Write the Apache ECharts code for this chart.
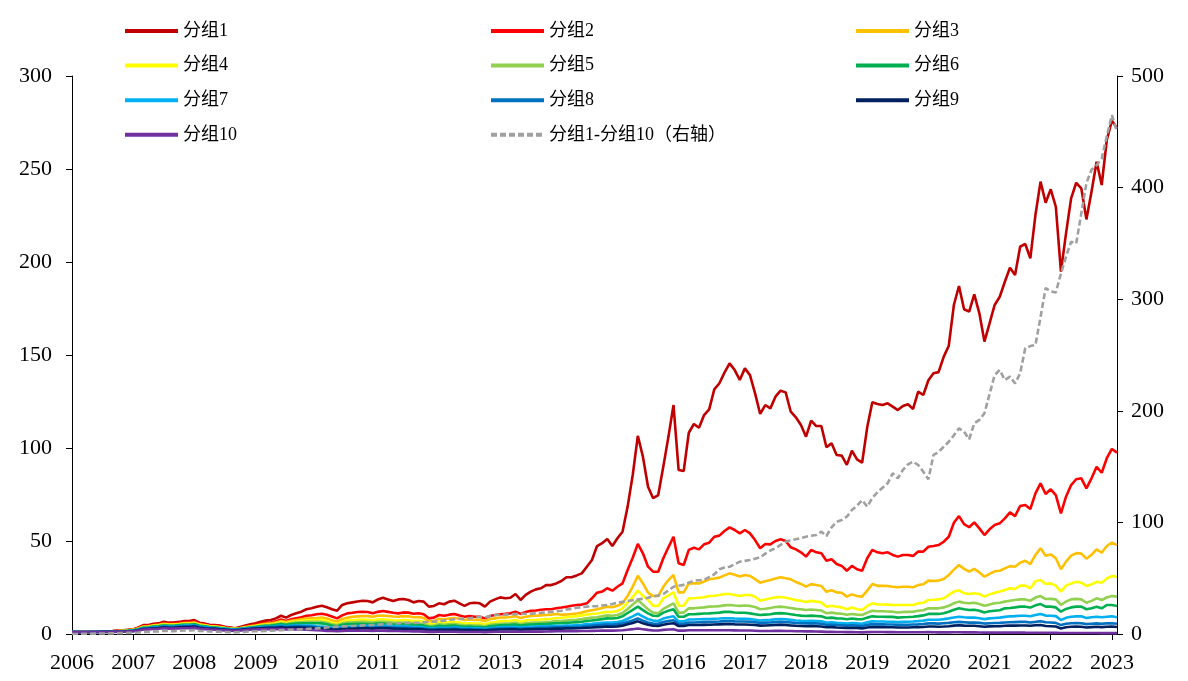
<!DOCTYPE html>
<html>
<head>
<meta charset="utf-8">
<script src="https://cdn.jsdelivr.net/npm/echarts@6/dist/echarts.min.js"></script>
<style>html,body{margin:0;padding:0;background:#fff}#c{width:1188px;height:681px}</style>
</head>
<body>
<div id="c"></div>
<script>
// Tick labels (years) and monthly categories 2006-01 .. 2023-02
const years = ['2006','2007','2008','2009','2010','2011','2012','2013','2014','2015','2016','2017','2018','2019','2020','2021','2022','2023'];
const months = [];
years.forEach(function (y) {
  for (let m = 1; m <= 12; m++) {
    if (y === '2023' && m > 2) break;
    months.push(y + '-' + (m < 10 ? '0' + m : '' + m));
  }
});

const names = ['分组1','分组2','分组3','分组4','分组5','分组6','分组7','分组8','分组9','分组10'];
const spreadName = '分组1-分组10（右轴）';

const group1 = [
1.0,1.05,1.1,1.2,1.3,1.4,1.5,1.5,1.6,1.8,2.0,2.3,
2.5,3.5,4.8,4.8,5.5,5.7,6.6,6.1,6.1,6.5,7.0,7.0,
7.5,6.1,5.6,5.0,4.8,4.5,3.9,3.5,3.1,3.8,4.5,5.2,
5.8,6.6,7.2,7.5,8.4,9.8,8.8,10.2,11.2,12.0,13.3,13.8,
14.6,15.2,14.4,13.3,12.5,15.6,16.5,17.0,17.5,17.9,17.7,17.0,
18.6,19.5,18.6,17.7,18.6,18.8,18.3,17.0,17.7,17.4,14.7,15.1,
16.5,16.0,17.4,17.9,16.5,15.1,16.5,16.8,16.5,14.7,17.4,18.6,
19.7,19.2,19.5,21.5,18.3,21.0,22.8,24.0,24.6,26.3,26.3,27.2,
28.5,30.5,30.5,31.5,32.6,36.2,39.8,47.3,48.8,51.1,47.3,51.5,
55.0,68.5,85.5,106.5,95.3,79.2,73.0,74.7,90.0,106.0,123.1,88.2,
87.6,108.2,112.9,110.9,117.7,120.8,131.5,134.8,140.5,145.5,141.9,136.6,
142.8,139.2,129.4,118.3,123.1,121.3,127.6,130.8,129.9,119.5,116.5,112.4,
106.1,114.7,111.8,111.8,100.4,102.5,96.2,95.9,90.9,98.5,93.9,92.1,
111.1,124.6,123.7,123.1,124.0,122.2,120.4,122.6,123.5,121.0,130.3,128.5,
136.4,140.2,140.8,149.0,155.0,176.9,187.1,174.6,173.3,182.6,172.4,157.2,
167.0,176.9,181.3,189.4,196.9,193.0,208.2,209.7,202.0,225.3,243.2,231.9,
239.1,229.7,194.8,215.4,234.2,242.6,239.6,222.9,237.8,253.9,241.4,265.6,
276.0,271.9];

const group2 = [
1.0,1.05,1.1,1.15,1.25,1.35,1.4,1.45,1.55,1.7,1.9,2.1,
2.4,3.2,4.3,4.4,5.0,5.2,5.9,5.6,5.6,6.0,6.4,6.4,
6.8,5.6,5.1,4.6,4.4,4.1,3.6,3.3,2.9,3.4,4.0,4.5,
5.0,5.6,6.0,6.2,6.8,7.8,7.0,7.9,8.5,9.0,9.8,10.1,
10.6,10.9,10.3,9.4,8.4,10.0,11.1,11.4,11.8,12.0,11.8,11.1,
11.9,12.4,11.9,11.4,11.1,11.6,11.5,10.9,11.2,10.6,8.4,8.8,
10.2,9.8,10.4,10.8,10.0,9.3,9.6,9.3,9.3,8.4,9.7,10.2,
10.6,10.8,11.1,12.0,10.8,11.8,12.5,12.6,13.0,13.3,13.3,13.8,
14.2,14.7,15.2,15.6,15.8,16.5,19.2,22.2,22.8,24.6,23.3,25.4,
27.2,34.4,41.0,48.4,43.4,36.2,33.5,33.5,40.7,46.6,52.3,38.0,
37.1,45.2,46.4,45.5,48.2,49.1,52.3,52.9,55.4,57.3,55.9,54.1,
55.9,54.1,50.5,46.1,48.4,48.2,50.0,50.9,50.0,46.6,45.5,43.9,
41.6,45.2,43.9,43.4,39.4,40.2,37.6,36.6,34.0,36.6,34.8,34.0,
40.7,45.2,43.9,43.4,43.9,42.5,41.6,42.5,42.5,42.0,44.3,44.3,
46.9,47.3,47.8,49.6,52.3,59.8,63.4,59.1,57.4,60.0,56.8,53.2,
56.3,58.6,59.5,62.2,65.4,63.4,68.8,69.4,67.2,75.6,81.0,75.3,
77.8,74.7,64.9,73.8,80.1,83.2,83.7,78.3,83.7,89.9,86.7,94.5,
99.5,97.5];

const group3 = [
1.0,1.05,1.1,1.15,1.2,1.3,1.35,1.4,1.5,1.6,1.8,2.0,
2.3,3.0,4.0,4.1,4.7,4.9,5.5,5.2,5.2,5.5,5.9,5.9,
6.2,5.2,4.8,4.3,4.1,3.8,3.4,3.1,2.8,3.2,3.7,4.2,
4.6,5.1,5.5,5.7,6.2,7.0,6.4,7.1,7.5,7.9,8.3,8.5,
8.6,8.8,8.3,7.4,6.6,8.0,8.8,9.2,9.5,9.7,9.6,9.3,
9.8,9.9,9.7,9.4,9.3,9.6,9.5,9.0,9.1,8.6,6.8,7.0,
8.2,7.9,8.3,8.6,8.2,7.6,7.8,7.6,7.6,7.0,8.0,8.4,
8.9,8.9,9.1,9.6,8.6,9.3,9.7,9.8,10.0,10.2,10.4,10.8,
10.3,10.5,10.7,11.0,11.5,12.3,12.8,13.3,14.0,14.7,14.4,15.2,
16.5,20.5,25.5,31.3,27.2,22.2,20.4,20.4,25.4,29.0,31.7,22.4,
22.4,27.2,27.2,27.2,28.2,29.4,29.8,30.3,31.5,32.6,31.8,30.9,
31.7,31.2,29.5,27.6,28.3,29.0,29.8,30.5,30.0,29.4,28.0,26.9,
25.5,26.8,26.3,25.8,22.7,23.5,22.4,22.2,20.1,21.3,20.4,20.1,
23.3,26.9,25.9,25.9,25.8,25.4,25.1,25.4,25.4,25.1,26.3,26.7,
28.7,28.5,28.7,29.6,31.7,34.6,37.1,35.0,33.5,35.0,33.1,30.8,
32.3,33.7,34.0,35.3,36.5,36.2,38.3,39.4,37.6,42.5,46.1,42.1,
42.8,40.7,34.8,38.9,42.1,43.5,43.2,40.5,42.6,45.5,43.7,47.3,
49.1,47.8];

const group4 = [
1.0,1.05,1.1,1.15,1.2,1.25,1.3,1.35,1.45,1.55,1.7,1.9,
2.2,2.8,3.8,3.9,4.4,4.6,5.2,4.9,4.9,5.2,5.5,5.5,
5.8,4.9,4.5,4.1,3.9,3.6,3.2,2.9,2.7,3.0,3.5,3.9,
4.3,4.7,5.0,5.2,5.6,6.3,5.8,6.4,6.7,7.0,7.3,7.4,
7.5,7.6,7.0,6.1,5.4,6.6,7.2,7.4,7.6,7.8,7.7,7.4,
7.8,7.9,7.7,7.4,7.2,7.5,7.4,7.0,7.1,6.6,5.3,5.5,
6.4,6.1,6.4,6.6,6.2,5.6,5.8,5.6,5.6,5.2,6.0,6.4,
6.9,7.0,7.1,7.5,6.6,7.2,7.5,7.6,7.8,8.0,8.2,8.6,
8.7,9.0,9.3,9.6,10.0,10.4,10.8,11.0,11.5,12.0,11.8,12.4,
13.8,17.0,20.0,23.3,20.5,18.3,15.1,15.1,19.2,20.8,22.4,15.2,
15.2,19.2,19.2,19.5,19.8,20.4,20.6,21.0,21.5,21.5,21.0,20.4,
21.0,21.0,20.0,17.9,18.6,19.2,19.7,19.9,19.5,19.0,18.2,17.9,
17.2,17.8,17.4,17.0,14.7,15.2,14.7,14.3,13.3,14.2,13.3,12.9,
15.1,16.5,15.9,15.9,15.8,15.6,15.6,15.6,15.6,15.6,16.5,16.8,
18.3,18.4,18.6,19.2,21.0,22.8,23.5,21.9,21.5,21.9,21.5,20.1,
21.3,22.2,22.8,23.7,24.6,24.2,26.0,26.0,24.6,28.3,29.0,26.9,
27.2,26.0,22.8,26.0,27.2,28.1,27.6,25.8,26.7,28.1,27.6,29.9,
31.2,30.8];

const group5 = [
1.0,1.05,1.1,1.12,1.18,1.22,1.28,1.32,1.4,1.5,1.65,1.8,
2.1,2.7,3.6,3.7,4.2,4.4,4.9,4.6,4.6,4.9,5.2,5.2,
5.5,4.6,4.3,3.9,3.7,3.4,3.0,2.8,2.6,2.9,3.3,3.7,
4.0,4.4,4.7,4.9,5.2,5.8,5.4,5.9,6.1,6.3,6.5,6.6,
6.6,6.5,6.0,5.2,4.8,5.7,6.1,6.3,6.4,6.5,6.4,6.2,
6.5,6.6,6.4,6.2,6.0,6.2,6.1,5.8,5.8,5.4,4.4,4.5,
5.2,5.0,5.2,5.4,5.0,4.6,4.7,4.5,4.5,4.2,4.9,5.2,
5.5,5.6,5.7,6.0,5.3,5.8,6.0,6.1,6.2,6.4,6.6,6.9,
7.0,7.3,7.5,7.7,8.0,8.4,8.8,9.0,9.5,10.0,9.8,10.2,
11.3,13.5,15.8,18.3,15.8,13.3,11.5,11.1,13.5,15.0,16.5,11.5,
11.5,13.8,13.8,14.1,14.3,14.7,14.8,15.0,15.4,15.6,15.3,15.1,
15.3,15.1,14.5,13.3,13.6,14.0,14.5,14.7,14.4,14.0,13.5,13.3,
12.9,13.2,12.9,12.6,11.2,11.5,11.1,10.9,10.3,10.8,10.4,10.2,
11.5,12.5,12.2,12.2,12.1,12.0,11.6,11.8,11.9,12.0,12.5,12.8,
13.8,13.8,13.8,14.3,15.2,16.5,17.4,16.8,16.5,16.8,16.1,15.2,
15.8,16.5,16.8,17.4,17.9,18.3,18.6,18.6,17.9,19.6,20.4,18.8,
18.9,18.6,15.6,17.5,18.6,18.9,18.6,16.8,17.8,19.2,18.3,19.6,
20.4,20.1];

const group6 = [
1.0,1.04,1.08,1.1,1.15,1.2,1.25,1.3,1.35,1.45,1.6,1.75,
2.0,2.6,3.4,3.5,4.0,4.2,4.6,4.4,4.4,4.7,5.0,5.0,
5.2,4.4,4.1,3.7,3.5,3.2,2.9,2.7,2.5,2.8,3.1,3.5,
3.8,4.1,4.4,4.6,4.9,5.4,5.0,5.4,5.6,5.7,5.8,5.8,
5.8,5.7,5.2,4.6,4.2,5.0,5.3,5.4,5.5,5.5,5.4,5.3,
5.6,5.6,5.4,5.2,5.1,5.2,5.1,4.9,4.9,4.5,3.7,3.8,
4.4,4.2,4.4,4.6,4.2,3.9,4.0,3.8,3.8,3.5,4.1,4.4,
4.7,4.8,4.9,5.1,4.5,4.9,5.1,5.2,5.3,5.4,5.6,5.8,
5.8,6.0,6.2,6.4,6.6,7.0,7.3,7.6,8.0,8.4,8.3,8.6,
9.5,11.3,13.0,14.7,12.8,11.1,9.8,9.7,11.5,12.5,13.3,9.3,
9.3,10.6,10.6,10.8,11.0,11.1,11.3,11.5,11.9,11.9,11.6,11.4,
11.4,11.1,10.6,10.2,10.4,10.6,11.1,11.2,11.0,10.6,10.2,9.9,
9.7,9.9,9.7,9.5,8.6,8.8,8.4,8.3,7.9,8.3,8.0,7.9,
8.8,9.5,9.3,9.3,9.2,9.2,8.8,9.0,9.1,9.3,9.6,10.0,
10.8,10.8,10.8,11.2,12.0,13.0,13.8,13.3,12.9,13.0,12.5,11.6,
12.2,12.5,12.8,13.8,14.0,14.3,14.7,14.7,14.2,15.4,16.1,14.7,
14.7,14.3,12.0,13.5,14.3,14.7,14.7,13.3,13.9,14.7,13.8,15.6,
15.6,15.1];

const group7 = [
1.0,1.03,1.06,1.08,1.12,1.16,1.2,1.24,1.28,1.35,1.45,1.6,
1.8,2.3,3.1,3.2,3.6,3.8,4.2,4.0,4.0,4.3,4.5,4.5,
4.7,4.0,3.7,3.4,3.2,2.9,2.7,2.5,2.3,2.6,2.9,3.2,
3.4,3.7,3.9,4.0,4.2,4.5,4.2,4.5,4.6,4.6,4.6,4.5,
4.2,4.0,3.8,3.4,3.2,3.7,3.9,4.0,4.2,4.3,4.3,4.2,
4.5,4.5,4.4,4.2,4.1,4.1,4.0,3.8,3.8,3.5,3.0,3.0,
3.4,3.3,3.4,3.6,3.3,3.1,3.2,3.0,3.0,2.8,3.2,3.4,
3.6,3.7,3.8,3.9,3.5,3.8,3.9,4.0,4.1,4.2,4.3,4.4,
4.3,4.5,4.6,4.8,5.0,5.3,5.5,5.8,6.0,6.2,6.1,6.4,
7.0,8.2,9.5,11.0,9.4,8.0,7.2,7.0,8.3,9.0,9.5,6.8,
6.8,7.8,7.8,7.9,8.0,8.1,8.2,8.3,8.5,8.5,8.3,8.2,
8.2,8.0,7.7,7.3,7.5,7.6,7.9,8.0,7.9,7.6,7.3,7.1,
7.0,7.1,7.0,6.8,6.2,6.3,6.0,5.9,5.6,5.9,5.7,5.5,
6.3,6.8,6.7,6.7,6.6,6.6,6.4,6.5,6.6,6.7,6.9,7.2,
7.7,7.7,7.7,8.0,8.4,8.9,9.3,9.0,8.8,8.9,8.5,8.0,
8.4,8.6,8.8,9.2,9.5,9.6,9.8,9.8,9.5,10.2,10.8,9.9,
9.8,9.6,7.5,8.7,9.3,9.5,9.5,8.6,9.0,9.3,9.0,9.3,
9.5,9.0];

const group8 = [
1.0,1.03,1.05,1.07,1.1,1.13,1.17,1.2,1.24,1.3,1.38,1.5,
1.7,2.2,2.9,3.0,3.4,3.5,3.9,3.7,3.7,4.0,4.2,4.2,
4.4,3.7,3.4,3.1,3.0,2.7,2.5,2.3,2.1,2.4,2.7,3.0,
3.2,3.4,3.6,3.7,3.8,4.1,3.8,4.0,4.1,4.1,4.0,3.9,
3.6,3.4,3.2,2.9,2.7,3.1,3.3,3.4,3.5,3.6,3.6,3.5,
3.7,3.7,3.6,3.5,3.4,3.4,3.3,3.1,3.1,2.9,2.5,2.5,
2.8,2.7,2.8,2.9,2.7,2.5,2.6,2.5,2.5,2.3,2.6,2.8,
2.9,3.0,3.0,3.1,2.8,3.0,3.1,3.2,3.3,3.4,3.5,3.6,
3.6,3.7,3.8,3.9,4.0,4.3,4.5,4.7,4.9,5.1,5.0,5.3,
5.7,6.5,7.3,8.4,7.2,6.2,5.6,5.5,6.4,7.0,7.4,5.5,
5.5,6.2,6.2,6.3,6.4,6.5,6.6,6.7,6.9,7.0,6.8,6.7,
6.7,6.6,6.3,6.0,6.1,6.2,6.4,6.5,6.4,6.2,5.9,5.8,
5.7,5.8,5.7,5.5,5.0,5.1,4.8,4.7,4.5,4.7,4.5,4.3,
4.9,5.3,5.2,5.2,5.1,5.1,4.9,5.0,5.0,5.1,5.2,5.4,
5.7,5.7,5.6,5.8,6.0,6.3,6.5,6.3,6.1,6.2,6.0,5.6,
5.8,5.9,6.0,6.2,6.3,6.4,6.5,6.5,6.2,6.5,6.9,6.3,
6.2,6.0,4.8,5.5,5.8,5.9,5.8,5.3,5.5,5.7,5.5,5.7,
5.8,5.5];

const group9 = [
1.0,1.02,1.04,1.06,1.08,1.1,1.13,1.16,1.2,1.25,1.32,1.42,
1.6,2.0,2.7,2.8,3.1,3.2,3.6,3.4,3.4,3.6,3.8,3.8,
4.0,3.4,3.1,2.9,2.8,2.5,2.3,2.1,2.0,2.2,2.5,2.7,
2.9,3.1,3.2,3.3,3.4,3.6,3.4,3.5,3.5,3.5,3.4,3.3,
3.1,2.9,2.7,2.5,2.3,2.6,2.8,2.9,2.9,3.0,3.0,2.9,
3.1,3.1,3.0,2.9,2.8,2.8,2.7,2.6,2.6,2.4,2.1,2.1,
2.3,2.2,2.3,2.4,2.2,2.1,2.1,2.0,2.0,1.9,2.1,2.3,
2.4,2.4,2.5,2.5,2.3,2.5,2.5,2.6,2.6,2.7,2.8,2.9,
2.9,3.0,3.0,3.1,3.2,3.4,3.5,3.7,3.8,4.0,3.9,4.1,
4.5,5.2,5.9,6.8,5.8,5.0,4.4,4.3,5.0,5.5,5.8,4.3,
4.3,4.8,4.8,4.8,4.9,5.0,5.1,5.2,5.3,5.4,5.2,5.1,
5.1,5.0,4.8,4.5,4.6,4.7,4.8,4.9,4.8,4.6,4.4,4.3,
4.2,4.3,4.2,4.0,3.6,3.7,3.5,3.4,3.2,3.4,3.2,3.0,
3.5,3.8,3.7,3.7,3.6,3.6,3.5,3.5,3.5,3.6,3.7,3.8,
4.0,4.0,3.9,4.0,4.2,4.5,4.7,4.5,4.4,4.4,4.2,3.9,
4.1,4.2,4.2,4.4,4.5,4.5,4.6,4.6,4.4,4.7,4.8,4.3,
4.2,4.0,3.0,3.6,3.9,4.0,3.9,3.5,3.7,3.9,3.7,3.9,
4.0,3.8];

const group10 = [
1.0,1.02,1.03,1.04,1.05,1.07,1.09,1.11,1.14,1.18,1.23,1.3,
1.45,1.8,2.4,2.5,2.7,2.8,3.1,2.9,2.9,3.0,3.1,3.1,
3.3,2.8,2.6,2.4,2.3,2.1,1.9,1.8,1.7,1.9,2.1,2.3,
2.4,2.5,2.6,2.6,2.6,2.7,2.5,2.5,2.5,2.4,2.3,2.2,
2.0,1.9,1.7,1.6,1.5,1.7,1.8,1.8,1.8,1.8,1.8,1.7,
1.8,1.8,1.7,1.6,1.6,1.5,1.5,1.4,1.4,1.3,1.15,1.15,
1.25,1.2,1.2,1.25,1.15,1.1,1.1,1.05,1.05,1.0,1.1,1.2,
1.25,1.25,1.25,1.3,1.2,1.25,1.3,1.3,1.3,1.35,1.4,1.45,
1.45,1.5,1.5,1.55,1.6,1.65,1.7,1.75,1.8,1.85,1.8,1.9,
2.0,2.3,2.6,3.0,2.6,2.2,1.9,1.9,2.2,2.4,2.5,1.8,
1.8,2.0,2.0,2.0,2.0,2.0,2.0,2.0,2.0,2.0,1.95,1.9,
1.9,1.85,1.75,1.65,1.65,1.65,1.7,1.7,1.65,1.6,1.5,1.45,
1.4,1.4,1.35,1.3,1.15,1.15,1.1,1.05,1.0,1.0,0.95,0.9,
1.0,1.1,1.05,1.05,1.0,1.0,0.95,0.95,0.95,0.95,0.95,0.95,
1.0,0.95,0.9,0.9,0.9,0.95,0.95,0.9,0.85,0.85,0.8,0.75,
0.75,0.75,0.75,0.75,0.75,0.75,0.75,0.72,0.7,0.7,0.7,0.65,
0.63,0.6,0.5,0.55,0.55,0.55,0.53,0.5,0.5,0.5,0.48,0.48,
0.48,0.45];

const spread = [
0.0,0.05,0.1,0.2,0.3,0.4,0.5,0.5,0.6,0.7,0.8,1.0,
1.0,1.3,1.8,1.8,2.2,2.3,2.8,2.6,2.6,2.9,3.2,3.2,
3.5,2.8,2.6,2.3,2.2,2.0,1.8,1.6,1.5,1.7,2.0,2.4,
2.4,2.6,2.8,3.0,3.2,3.5,3.6,3.8,4.0,4.3,4.5,4.8,
5.0,5.3,5.8,6.2,6.6,6.8,7.0,7.2,7.4,7.7,7.9,8.1,
8.4,8.8,9.0,9.3,9.6,9.7,9.9,10.0,10.2,10.5,10.8,11.1,
11.4,12.0,12.5,13.2,13.5,13.8,14.1,14.6,15.5,15.0,16.0,17.0,
17.2,17.4,17.6,17.8,17.9,18.1,18.3,18.5,18.9,19.4,19.8,20.5,
20.9,22.1,22.5,23.5,24.0,24.5,24.8,25.0,25.5,26.0,26.9,28.0,
28.8,29.5,30.3,31.1,31.5,32.5,33.8,34.5,35.8,39.0,42.4,43.2,
44.0,46.0,47.8,48.1,48.4,51.0,53.5,58.0,59.5,60.3,62.5,64.8,
65.5,66.3,67.5,68.7,72.0,74.8,76.8,79.8,82.7,84.0,84.9,86.0,
87.2,88.0,88.7,91.7,87.8,95.6,100.6,102.2,105.1,111.1,115.0,120.0,
114.1,122.0,127.0,131.0,135.0,144.0,139.5,147.0,152.0,154.4,151.4,145.4,
138.6,160.4,163.0,167.8,172.3,178.0,184.3,181.3,174.5,188.8,191.8,197.8,
215.0,232.0,236.6,227.6,230.6,224.6,233.6,256.0,258.0,259.0,284.0,310.0,
307.0,306.0,323.0,338.0,351.5,350.0,377.0,404.0,416.0,420.0,426.0,446.0,
465.0,450.0];

const groups = [group1, group2, group3, group4, group5, group6, group7, group8, group9, group10];
const colors = ['#C00000','#FF0000','#FFC000','#FFFF00','#92D050','#00B050','#00B0F0','#0070C0','#002060','#7030A0'];
const spreadColor = '#A0A0A0';

const FONT = "'Liberation Serif','Times New Roman','Noto Sans CJK SC',serif";

const series = groups.map(function (d, i) {
  return {
    name: names[i], type: 'line', data: d, yAxisIndex: 0,
    symbol: 'none', showSymbol: false,
    lineStyle: { width: 2.6, color: colors[i] },
    itemStyle: { color: colors[i] },
    z: 2
  };
});
series.push({
  name: spreadName, type: 'line', data: spread, yAxisIndex: 1,
  symbol: 'none', showSymbol: false,
  lineStyle: { width: 2.6, color: spreadColor, type: [6, 3] },
  itemStyle: { color: spreadColor },
  z: 3
});

function legendCol(left, items) {
  return {
    orient: 'vertical', left: left, top: 21, padding: 0,
    itemGap: 14.6, itemWidth: 53, itemHeight: 20,
    data: items,
    lineStyle: { width: 4 },
    itemStyle: { color: 'rgba(0,0,0,0)', borderWidth: 0, opacity: 0 },
    textStyle: { fontSize: 18, fontFamily: FONT, color: '#000', lineHeight: 20 },
    selectedMode: false
  };
}

const chart = echarts.init(document.getElementById('c'), null, { renderer: 'canvas' });
chart.setOption({
  animation: false,
  backgroundColor: '#fff',
  grid: { left: 72, right: 71, top: 76, bottom: 47, containLabel: false },
  legend: [
    legendCol(123, [names[0], names[3], names[6], names[9]]),
    legendCol(489, [names[1], names[4], names[7], spreadName]),
    legendCol(854, [names[2], names[5], names[8]])
  ],
  xAxis: {
    type: 'category', data: months, boundaryGap: false,
    axisLine: { show: true, lineStyle: { color: '#000', width: 1 } },
    axisTick: { show: true, length: 6, interval: function (i) { return i % 12 === 0; }, lineStyle: { color: '#000' } },
    axisLabel: {
      interval: function (i) { return i % 12 === 0; },
      formatter: function (v) { return v.slice(0, 4); },
      fontSize: 22, fontFamily: FONT, color: '#000', margin: 18
    },
    splitLine: { show: false }
  },
  yAxis: [
    {
      type: 'value', position: 'left', min: 0, max: 300, interval: 50,
      axisLine: { show: true, lineStyle: { color: '#000', width: 1 } },
      axisTick: { show: true, length: 6, lineStyle: { color: '#000' } },
      axisLabel: { fontSize: 22, fontFamily: FONT, color: '#000', margin: 20 },
      splitLine: { show: false }
    },
    {
      type: 'value', position: 'right', min: 0, max: 500, interval: 100,
      axisLine: { show: true, lineStyle: { color: '#000', width: 1 } },
      axisTick: { show: true, length: 6, lineStyle: { color: '#000' } },
      axisLabel: { fontSize: 22, fontFamily: FONT, color: '#000', margin: 14 },
      splitLine: { show: false }
    }
  ],
  series: series
});
</script>
</body>
</html>
